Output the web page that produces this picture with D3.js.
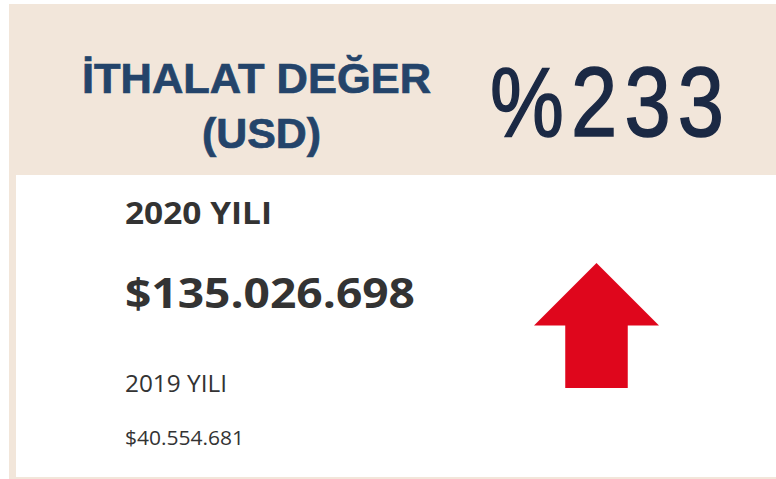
<!DOCTYPE html>
<html>

<head>
    <meta charset="utf-8">
    <title>Ithalat Deger</title>
    <script src="https://cdn.jsdelivr.net/npm/d3@7/dist/d3.min.js"></script>
    <style>
        body { margin: 0; background: #ffffff; }
    </style>
</head>

<body>
    <svg width="776" height="479" id="mainsvg"></svg>
    <script>
        // data read from the card
        const titleLines = ['İTHALAT DEĞER', '(USD)'];
        const yearLabels = ['2020 YILI', '2019 YILI'];
        const yearValues = [135026698, 40554681];
        // unit arrow outline (0..1 box), scaled into place below
        const arrowShape = [[0.5, 0], [1, 0.5], [0.75, 0.5], [0.75, 1], [0.25, 1], [0.25, 0.5], [0, 0.5]];

        const svg = d3.select('svg');
        const width = +svg.attr('width');
        const height = +svg.attr('height');
        const beige = '#f2e6da';

        const tr = d3.formatLocale({ decimal: ',', thousands: '.', grouping: [3], currency: ['$', ''] });
        const money = tr.format('$,.0f');
        const change = Math.round((yearValues[0] - yearValues[1]) / yearValues[1] * 100);

        // frame: beige header, thin beige left and bottom borders
        svg.append('rect').attr('x', 9).attr('y', 4).attr('width', width - 9).attr('height', 171).attr('fill', beige);
        svg.append('rect').attr('x', 9).attr('y', 175).attr('width', 7).attr('height', height - 175).attr('fill', beige);
        svg.append('rect').attr('x', 9).attr('y', height - 2).attr('width', width - 9).attr('height', 2).attr('fill', beige);

        // header title
        const titleFit = [{ x: 82, y: 93, w: 349 }, { x: 202, y: 148, w: 119 }];
        svg.selectAll('text.title').data(titleLines).join('text')
            .attr('class', 'title')
            .attr('x', (d, i) => titleFit[i].x)
            .attr('y', (d, i) => titleFit[i].y)
            .attr('textLength', (d, i) => titleFit[i].w)
            .attr('lengthAdjust', 'spacingAndGlyphs')
            .attr('font-family', 'Liberation Sans, Arial, sans-serif')
            .attr('font-weight', 'bold')
            .attr('font-size', 42)
            .attr('fill', '#24446a')
            .attr('stroke', '#24446a')
            .attr('stroke-width', 0.7)
            .text(d => d);

        // percent change, narrow glyphs with wide spacing
        svg.append('g')
            .attr('transform', 'translate(490,136) scale(0.84,1)')
            .append('text')
            .attr('x', 0)
            .attr('y', 0)
            .attr('font-family', 'Liberation Sans, Arial, sans-serif')
            .attr('font-size', 99)
            .attr('textLength', 234 / 0.84)
            .attr('lengthAdjust', 'spacing')
            .attr('fill', '#1b2944')
            .attr('stroke', '#1b2944')
            .attr('stroke-width', 1.6)
            .text('%' + change);

        // year blocks
        const rows = [
            { text: yearLabels[0], y: 224, size: 30.5, weight: 'bold', w: 147 },
            { text: money(yearValues[0]), y: 308, size: 41.5, weight: 'bold', w: 290 },
            { text: yearLabels[1], y: 391.5, size: 23, weight: 'normal', w: 102 },
            { text: money(yearValues[1]), y: 444.5, size: 20.5, weight: 'normal', w: 119 }
        ];
        svg.selectAll('text.row').data(rows).join('text')
            .attr('class', 'row')
            .attr('x', 125)
            .attr('y', d => d.y)
            .attr('textLength', d => d.w)
            .attr('lengthAdjust', 'spacingAndGlyphs')
            .attr('font-family', 'Open Sans, Noto Sans, sans-serif')
            .attr('font-weight', d => d.weight)
            .attr('font-size', d => d.size)
            .attr('fill', '#333333')
            .text(d => d.text);

        // up arrow
        const ax = d3.scaleLinear().domain([0, 1]).range([534, 659]);
        const ay = d3.scaleLinear().domain([0, 1]).range([263, 388]);
        svg.append('path')
            .datum(arrowShape)
            .attr('d', d3.line().x(d => ax(d[0])).y(d => ay(d[1])).curve(d3.curveLinearClosed))
            .attr('fill', '#df061c');
    </script>
</body>

</html>
